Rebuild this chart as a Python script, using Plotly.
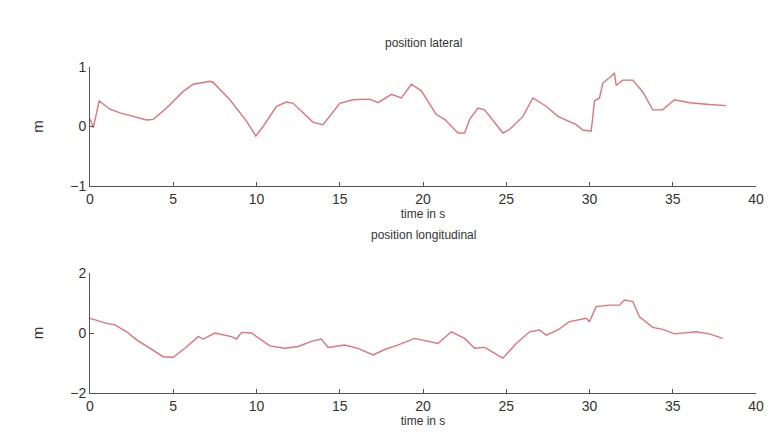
import plotly.graph_objects as go
from plotly.subplots import make_subplots

# position lateral
t_lat = [0.0, 0.2, 0.55, 1.2, 1.8, 2.6, 3.4, 3.8, 4.6, 5.6, 6.2, 7.2, 7.4, 8.4, 9.4, 9.96,
         10.4, 11.2, 11.8, 12.2, 13.0, 13.4, 14.0, 14.3, 15.0, 15.8, 16.8, 17.3, 18.1, 18.7,
         19.3, 19.9, 20.8, 21.3, 22.1, 22.5, 22.8, 23.3, 23.7, 24.8, 25.2, 26.0, 26.6, 27.4,
         28.1, 29.2, 29.6, 30.1, 30.3, 30.6, 30.8, 31.2, 31.5, 31.6, 32.0, 32.6, 33.2, 33.8,
         34.4, 35.1, 36.0, 37.2, 38.2]
y_lat = [0.13, -0.02, 0.43, 0.29, 0.23, 0.17, 0.11, 0.12, 0.31, 0.59, 0.71, 0.76, 0.74, 0.45,
         0.09, -0.16, 0.0, 0.34, 0.41, 0.39, 0.17, 0.07, 0.03, 0.14, 0.39, 0.45, 0.46, 0.40,
         0.54, 0.48, 0.71, 0.60, 0.20, 0.12, -0.11, -0.11, 0.12, 0.31, 0.28, -0.11, -0.05,
         0.17, 0.48, 0.34, 0.17, 0.03, -0.06, -0.08, 0.43, 0.48, 0.73, 0.82, 0.90, 0.69, 0.78,
         0.78, 0.58, 0.28, 0.28, 0.45, 0.40, 0.37, 0.35]

# position longitudinal
t_lon = [0.0, 0.6, 1.0, 1.5, 2.2, 2.8, 3.6, 4.4, 5.0, 5.7, 6.5, 6.8, 7.5, 8.5, 8.8, 9.1, 9.7,
         10.3, 10.8, 11.7, 12.5, 13.3, 13.9, 14.3, 15.3, 16.1, 17.0, 17.7, 18.4, 19.5, 20.9,
         21.7, 22.5, 23.1, 23.7, 24.8, 25.6, 26.4, 27.0, 27.4, 28.1, 28.8, 29.8, 30.0, 30.4,
         31.2, 31.8, 32.1, 32.6, 33.0, 33.8, 34.4, 35.1, 36.4, 37.2, 38.0]
y_lon = [0.49, 0.39, 0.32, 0.27, 0.04, -0.23, -0.51, -0.79, -0.81, -0.51, -0.12, -0.20, 0.0,
         -0.12, -0.20, 0.02, 0.0, -0.23, -0.43, -0.51, -0.45, -0.28, -0.20, -0.48, -0.40,
         -0.51, -0.73, -0.55, -0.42, -0.18, -0.35, 0.04, -0.18, -0.51, -0.48, -0.84, -0.35,
         0.04, 0.10, -0.07, 0.10, 0.38, 0.49, 0.38, 0.88, 0.93, 0.93, 1.10, 1.05, 0.54, 0.19,
         0.12, -0.03, 0.04, -0.03, -0.18]

x_ticks = [0, 5, 10, 15, 20, 25, 30, 35, 40]
titles = ["position lateral", "position longitudinal"]
x_title = "time in s"
y_title = "m"

line_color = "#e2737a"
axis_color = "#555555"
font = dict(family="Liberation Sans, Arial, sans-serif", size=14, color="#333333")

fig = make_subplots(rows=2, cols=1, vertical_spacing=0.26)
fig.add_trace(go.Scatter(x=t_lat, y=y_lat, mode="lines",
                         line=dict(color=line_color, width=1.4)), row=1, col=1)
fig.add_trace(go.Scatter(x=t_lon, y=y_lon, mode="lines",
                         line=dict(color=line_color, width=1.4)), row=2, col=1)

common_x = dict(range=[0, 40], tickvals=x_ticks, ticks="inside", ticklen=4,
                tickcolor=axis_color, showline=True, linecolor=axis_color, linewidth=1,
                showgrid=False, zeroline=False, tickfont=font,
                title=dict(text=x_title, font=dict(size=12, color="#333333"), standoff=1))
fig.update_xaxes(**common_x)
fig.update_yaxes(range=[-1, 1], tickvals=[-1, 0, 1], ticktext=["\u22121", "0", "1"],
                 row=1, col=1)
fig.update_yaxes(range=[-2, 2], tickvals=[-2, 0, 2], ticktext=["\u22122", "0", "2"],
                 row=2, col=1)
fig.update_yaxes(ticks="inside", ticklen=4, tickcolor=axis_color, showline=True,
                 linecolor=axis_color, linewidth=1, showgrid=False, zeroline=False,
                 tickfont=font,
                 title=dict(text=y_title, font=dict(size=15, color="#333333"), standoff=22))
fig.update_yaxes(domain=[0.635, 1.0], row=1, col=1)
fig.update_yaxes(domain=[0.0, 0.368], row=2, col=1)

fig.add_annotation(text=titles[0], x=0.5, y=1.0, xref="paper", yref="paper",
                   yanchor="bottom", yshift=15, showarrow=False,
                   font=dict(size=12, color="#333333"))
fig.add_annotation(text=titles[1], x=0.5, y=0.368, xref="paper", yref="paper",
                   yanchor="bottom", yshift=29, showarrow=False,
                   font=dict(size=12, color="#333333"))

fig.update_layout(width=776, height=446, margin=dict(l=90, r=16, t=67, b=53),
                  paper_bgcolor="white", plot_bgcolor="white", showlegend=False,
                  font=font)
fig.write_html("out.html")
